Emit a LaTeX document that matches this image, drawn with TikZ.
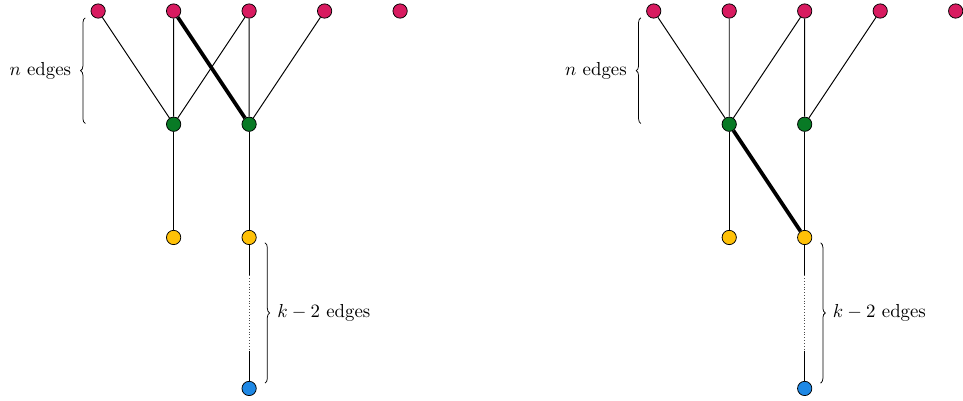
\documentclass[tikz,border=0pt]{standalone}
\usepackage{amsmath}
\usepackage{tikz}
\usetikzlibrary{decorations.pathreplacing,calc}
\definecolor{Rose}{HTML}{D81B60}
\definecolor{Leaf}{HTML}{087A25}
\definecolor{Amber}{HTML}{FFC107}
\definecolor{Sky}{HTML}{1E88E5}
\tikzset{
  vtx/.style={circle,draw=black,line width=0.4pt,inner sep=0pt,minimum size=7.6pt},
  toprow/.style={vtx,fill=Rose},
  midrow/.style={vtx,fill=Leaf},
  lowrow/.style={vtx,fill=Amber},
  endpt/.style={vtx,fill=Sky},
  link/.style={line width=0.5pt},
  heavy/.style={line width=2pt},
  gap/.style={densely dotted,line width=0.5pt,black!70},
  brc/.style={decorate,decoration={brace,amplitude=2.5pt},line width=0.4pt},
}

\begin{document}
\begin{tikzpicture}[x=1.41cm,y=1.41cm]
        \useasboundingbox (-1.3,0.146) rectangle (11.457,-5.166);
        % left picture
        \foreach \i in {1,...,5} \node[toprow] (la\i) at ({\i-1},0) {};
        \node[midrow] (lb1) at (1,-1.5) {};
        \node[midrow] (lb2) at (2,-1.5) {};
        \node[lowrow] (lc1) at (1,-3) {};
        \node[lowrow] (lc2) at (2,-3) {};
        \node[endpt] (ld) at (2,-5) {};
        \coordinate (lp) at (2,-3.5);
        \coordinate (lq) at (2,-4.5);
        \draw[link] (la1)--(lb1) (la2)--(lb1) (la3)--(lb1) (la3)--(lb2) (la4)--(lb2);
        \draw[heavy] (la2)--(lb2);
        \draw[link] (lb1)--(lc1) (lb2)--(lc2) (lc2)--(lp) (lq)--(ld);
        \draw[gap] (lp)--(lq);
        \draw[brc] (-0.17,-1.49)--(-0.17,-0.09) node[midway,left=4pt] (ln) {$n$ edges};
        \draw[brc] (2.21,-3.07)--(2.21,-4.93) node[midway,right=3pt] (lk) {$k-2$ edges};
        % right picture
        \begin{scope}[xshift=7.36*1.41cm]
        \foreach \i in {1,...,5} \node[toprow] (ra\i) at ({\i-1},0) {};
        \node[midrow] (rb1) at (1,-1.5) {};
        \node[midrow] (rb2) at (2,-1.5) {};
        \node[lowrow] (rc1) at (1,-3) {};
        \node[lowrow] (rc2) at (2,-3) {};
        \node[endpt] (rd) at (2,-5) {};
        \coordinate (rp) at (2,-3.5);
        \coordinate (rq) at (2,-4.5);
        \draw[link] (ra1)--(rb1) (ra2)--(rb1) (ra3)--(rb1) (ra3)--(rb2) (ra4)--(rb2);
        \draw[heavy] (rb1)--(rc2);
        \draw[link] (rb1)--(rc1) (rb2)--(rc2) (rc2)--(rp) (rq)--(rd);
        \draw[gap] (rp)--(rq);
        \draw[brc] (-0.17,-1.49)--(-0.17,-0.09) node[midway,left=4pt] (rn) {$n$ edges};
        \draw[brc] (2.21,-3.07)--(2.21,-4.93) node[midway,right=3pt] (rk) {$k-2$ edges};
        \end{scope}
      \end{tikzpicture}
\end{document}
